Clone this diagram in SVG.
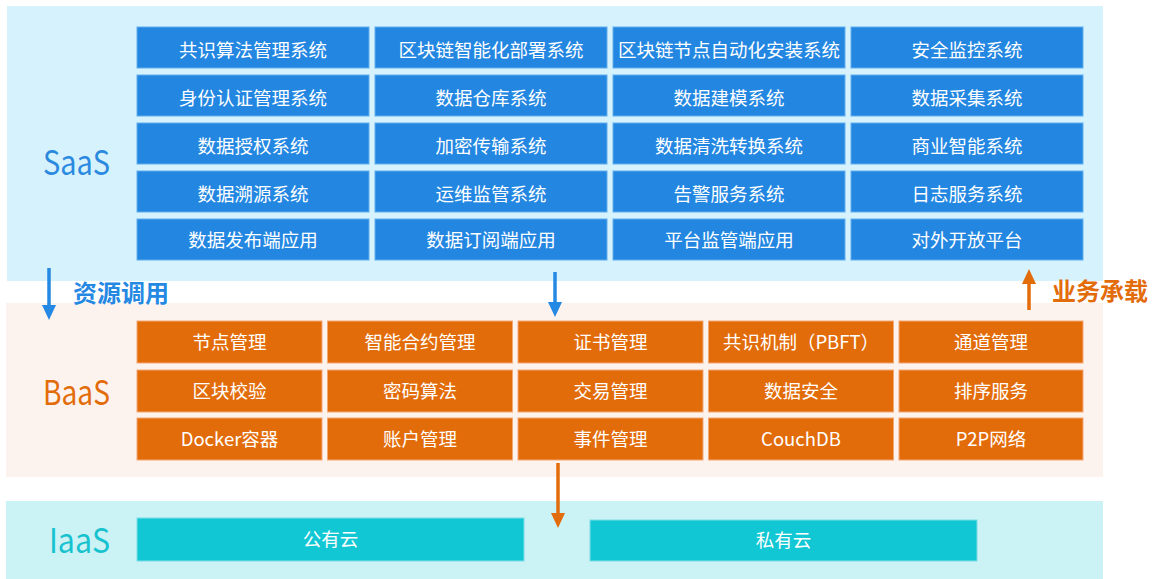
<svg xmlns="http://www.w3.org/2000/svg" width="1154" height="579" viewBox="0 0 1154 579">
<style>
text{font-family:"Noto Sans CJK SC","Noto Sans",sans-serif;text-anchor:middle}
.s rect{fill:#2387e2;stroke:#62aeec;stroke-width:1}
.b rect{fill:#e36c0a;stroke:#f3a874;stroke-width:1}
.i rect{fill:#12c7d4;stroke:#7fdde6;stroke-width:1}
.s text,.b text,.i text{fill:#ffffff;font-size:18.5px}
.lbl{font-size:34px;text-anchor:start}
.ann{font-size:24px;font-weight:bold;text-anchor:start}
</style>
<defs>
<marker id="hb" viewBox="0 0 15 14" markerWidth="15" markerHeight="14" markerUnits="userSpaceOnUse" refX="0" refY="7" orient="auto"><path d="M0,0 L15,7 L0,14 z" fill="#2588e2"/></marker>
<marker id="ho" viewBox="0 0 15 14" markerWidth="15" markerHeight="14" markerUnits="userSpaceOnUse" refX="0" refY="7" orient="auto"><path d="M0,0 L15,7 L0,14 z" fill="#e36c0a"/></marker>
</defs>
<rect width="1154" height="579" fill="#ffffff"/>
<g id="layers">
<rect x="7" y="6" width="1096" height="275" fill="#d6f3fd"/>
<rect x="6" y="303" width="1097" height="174" fill="#fdf3ee"/>
<rect x="6" y="501" width="1097" height="78" fill="#cbf2f5"/>
<text class="lbl" x="43" y="175" fill="#2b89e0" textLength="67" lengthAdjust="spacingAndGlyphs">SaaS</text>
<text class="lbl" x="43" y="405" fill="#e36c0a" textLength="67" lengthAdjust="spacingAndGlyphs">BaaS</text>
<text class="lbl" x="49" y="553" fill="#17c2cf" textLength="61" lengthAdjust="spacingAndGlyphs">IaaS</text>
</g>
<g id="saas" class="s">
<g id="s11"><rect x="137" y="27" width="232" height="41"/><text x="253" y="57">共识算法管理系统</text></g>
<g id="s12"><rect x="375" y="27" width="232" height="41"/><text x="491" y="57">区块链智能化部署系统</text></g>
<g id="s13"><rect x="613" y="27" width="232" height="41"/><text x="729" y="57">区块链节点自动化安装系统</text></g>
<g id="s14"><rect x="851" y="27" width="232" height="41"/><text x="967" y="57">安全监控系统</text></g>
<g id="s21"><rect x="137" y="75" width="232" height="41"/><text x="253" y="105">身份认证管理系统</text></g>
<g id="s22"><rect x="375" y="75" width="232" height="41"/><text x="491" y="105">数据仓库系统</text></g>
<g id="s23"><rect x="613" y="75" width="232" height="41"/><text x="729" y="105">数据建模系统</text></g>
<g id="s24"><rect x="851" y="75" width="232" height="41"/><text x="967" y="105">数据采集系统</text></g>
<g id="s31"><rect x="137" y="123" width="232" height="41"/><text x="253" y="153">数据授权系统</text></g>
<g id="s32"><rect x="375" y="123" width="232" height="41"/><text x="491" y="153">加密传输系统</text></g>
<g id="s33"><rect x="613" y="123" width="232" height="41"/><text x="729" y="153">数据清洗转换系统</text></g>
<g id="s34"><rect x="851" y="123" width="232" height="41"/><text x="967" y="153">商业智能系统</text></g>
<g id="s41"><rect x="137" y="171" width="232" height="41"/><text x="253" y="201">数据溯源系统</text></g>
<g id="s42"><rect x="375" y="171" width="232" height="41"/><text x="491" y="201">运维监管系统</text></g>
<g id="s43"><rect x="613" y="171" width="232" height="41"/><text x="729" y="201">告警服务系统</text></g>
<g id="s44"><rect x="851" y="171" width="232" height="41"/><text x="967" y="201">日志服务系统</text></g>
<g id="s51"><rect x="137" y="219" width="232" height="41"/><text x="253" y="247">数据发布端应用</text></g>
<g id="s52"><rect x="375" y="219" width="232" height="41"/><text x="491" y="247">数据订阅端应用</text></g>
<g id="s53"><rect x="613" y="219" width="232" height="41"/><text x="729" y="247">平台监管端应用</text></g>
<g id="s54"><rect x="851" y="219" width="232" height="41"/><text x="967" y="247">对外开放平台</text></g>
</g>
<g id="baas" class="b">
<g id="b11"><rect x="137" y="321" width="185" height="42"/><text x="229.5" y="349">节点管理</text></g>
<g id="b12"><rect x="327.5" y="321" width="185" height="42"/><text x="420" y="349">智能合约管理</text></g>
<g id="b13"><rect x="518" y="321" width="185" height="42"/><text x="610.5" y="349">证书管理</text></g>
<g id="b14"><rect x="708.5" y="321" width="185" height="42"/><text x="801" y="349">共识机制（PBFT）</text></g>
<g id="b15"><rect x="899" y="321" width="184" height="42"/><text x="991" y="349">通道管理</text></g>
<g id="b21"><rect x="137" y="370" width="185" height="42"/><text x="229.5" y="398">区块校验</text></g>
<g id="b22"><rect x="327.5" y="370" width="185" height="42"/><text x="420" y="398">密码算法</text></g>
<g id="b23"><rect x="518" y="370" width="185" height="42"/><text x="610.5" y="398">交易管理</text></g>
<g id="b24"><rect x="708.5" y="370" width="185" height="42"/><text x="801" y="398">数据安全</text></g>
<g id="b25"><rect x="899" y="370" width="184" height="42"/><text x="991" y="398">排序服务</text></g>
<g id="b31"><rect x="137" y="418" width="185" height="42"/><text x="229.5" y="446">Docker容器</text></g>
<g id="b32"><rect x="327.5" y="418" width="185" height="42"/><text x="420" y="446">账户管理</text></g>
<g id="b33"><rect x="518" y="418" width="185" height="42"/><text x="610.5" y="446">事件管理</text></g>
<g id="b34"><rect x="708.5" y="418" width="185" height="42"/><text x="801" y="446">CouchDB</text></g>
<g id="b35"><rect x="899" y="418" width="184" height="42"/><text x="991" y="446">P2P网络</text></g>
</g>
<g id="iaas" class="i">
<g id="public"><rect x="137" y="518" width="387" height="43"/><text x="330.5" y="546">公有云</text></g>
<g id="private"><rect x="590" y="520" width="387" height="41"/><text x="783.5" y="547">私有云</text></g>
</g>
<g id="connectors">
<line x1="49" y1="268" x2="49" y2="305" stroke="#2588e2" stroke-width="3.5" marker-end="url(#hb)"/>
<line x1="555" y1="272" x2="555" y2="302" stroke="#2588e2" stroke-width="3.5" marker-end="url(#hb)"/>
<line x1="558" y1="463" x2="558" y2="513" stroke="#e36c0a" stroke-width="3.5" marker-end="url(#ho)"/>
<line x1="1029" y1="310" x2="1029" y2="284" stroke="#e36c0a" stroke-width="3.5" marker-end="url(#ho)"/>
<text class="ann" x="73" y="302" fill="#2588e2">资源调用</text>
<text class="ann" x="1052" y="300" fill="#e36c0a">业务承载</text>
</g>
</svg>
